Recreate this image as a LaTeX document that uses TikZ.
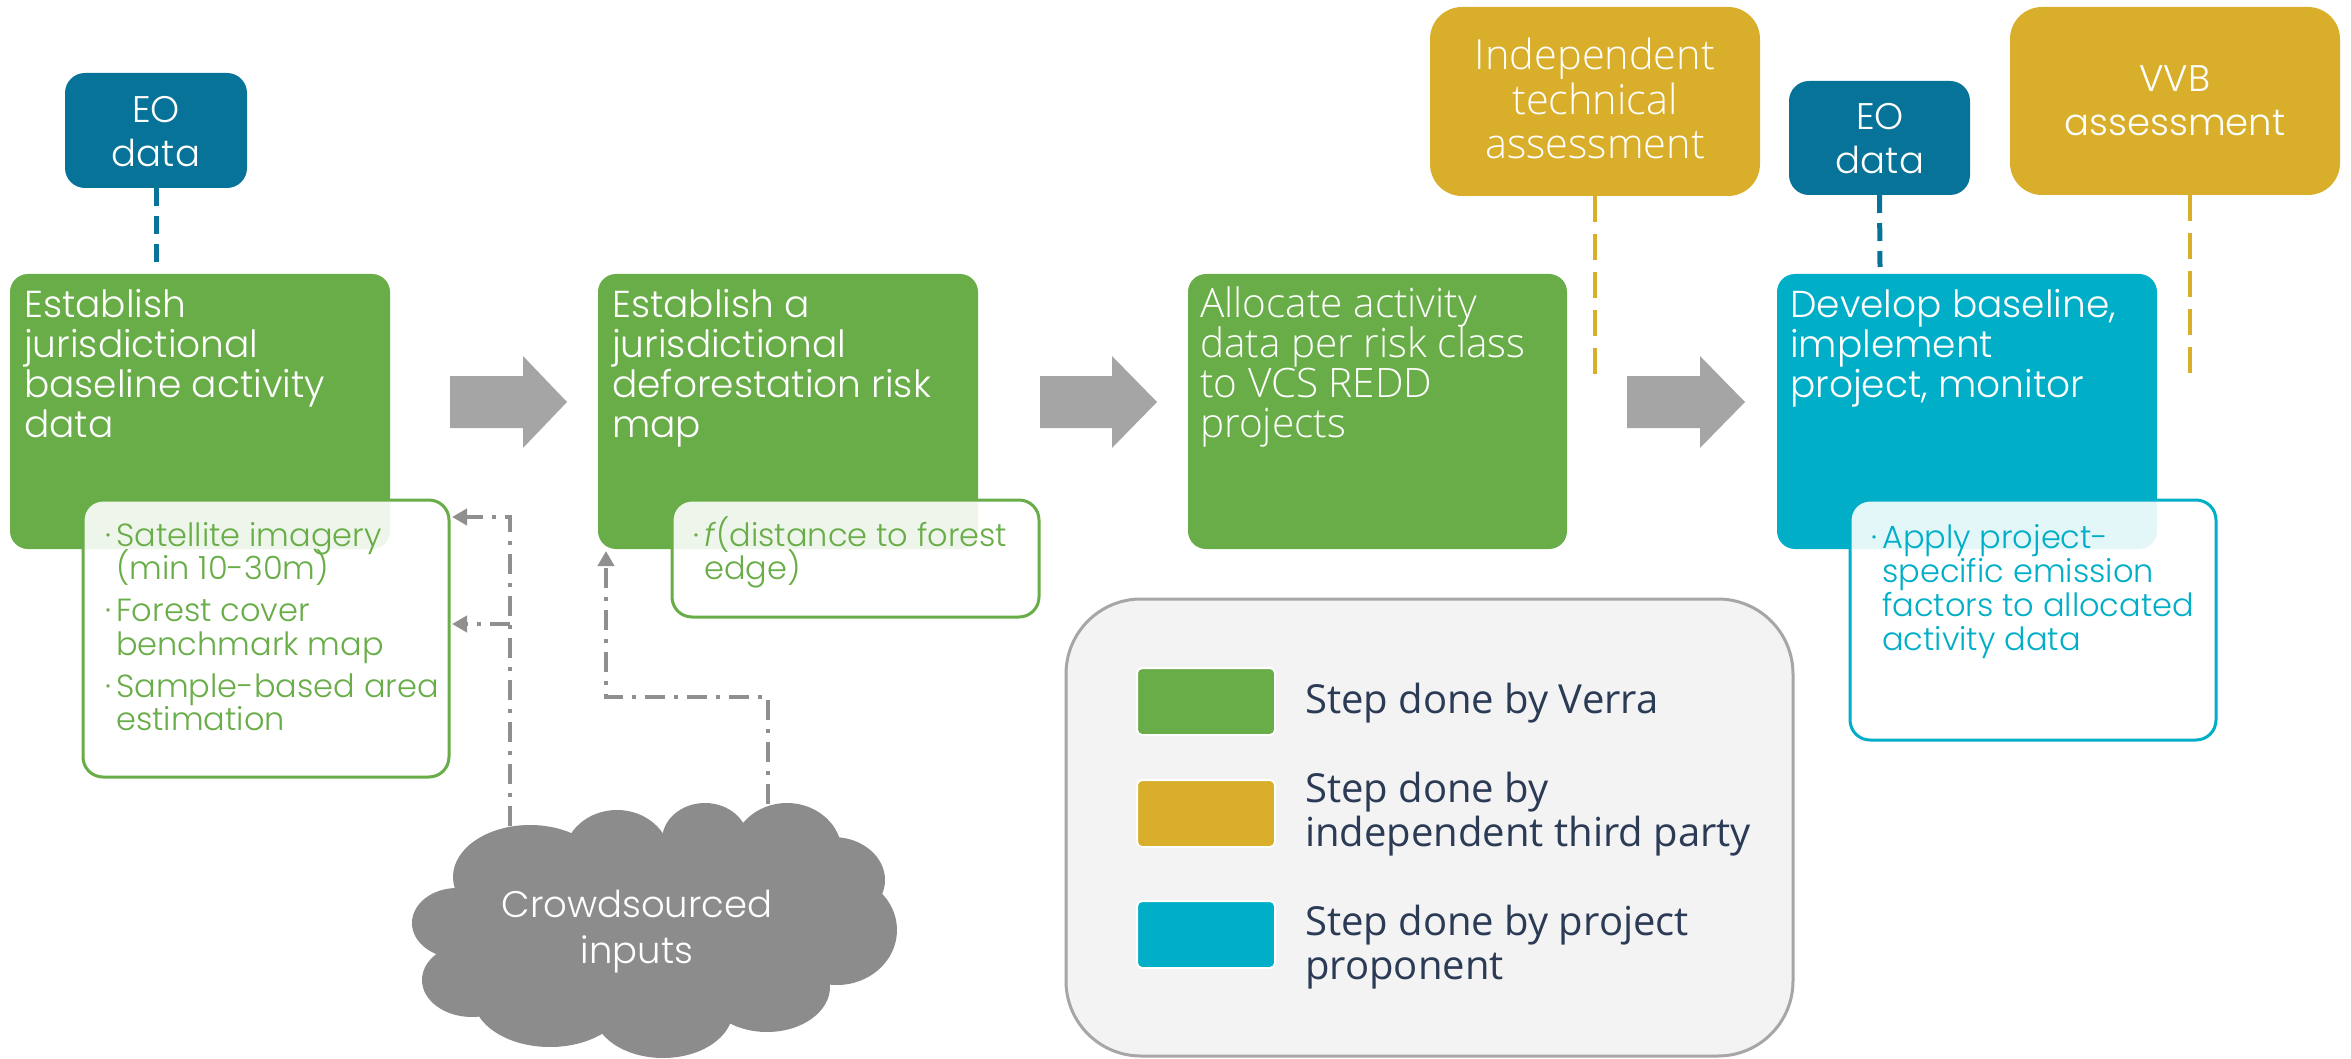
\documentclass[tikz,border=0pt]{standalone}
\usepackage{fontspec}
\setmainfont{Poppins}[UprightFont={* Light}, ItalicFont={* Light Italic}]
\newfontfamily\segfont{Open Sans}[UprightFont={* Light}]
\newfontfamily\legfont{Open Sans}
\usetikzlibrary{arrows.meta}
\definecolor{vgreen}{HTML}{68AD47}
\definecolor{eoblue}{HTML}{077398}
\definecolor{vgold}{HTML}{D9AE2A}
\definecolor{vcyan}{HTML}{00AEC7}
\definecolor{arrgray}{HTML}{A5A5A5}
\definecolor{cloudgray}{HTML}{8C8C8C}
\definecolor{ddgray}{HTML}{8F8F8F}
\definecolor{legfill}{HTML}{F3F3F3}
\definecolor{legline}{HTML}{A6A6A6}
\definecolor{legtext}{HTML}{2B3A55}
\newcommand\LeftLines[1]{\vtop{\lineskiplimit=-1000pt\halign{##\hfil\cr#1\crcr}}}
\newcommand\CenterLines[1]{\vtop{\lineskiplimit=-1000pt\halign{\hfil##\hfil\cr#1\crcr}}}
\newcommand\bul{\llap{·\hskip 5pt}}
\begin{document}
\begin{tikzpicture}[x=1pt,y=-1pt,
  box/.style={inner sep=0pt, outer sep=0pt, anchor=north west, rounded corners=18pt},
  stepgreen/.style={box, fill=vgreen},
  stepcyan/.style={box, fill=vcyan},
  eobox/.style={box, fill=eoblue, rounded corners=20pt},
  goldbox/.style={box, fill=vgold, rounded corners=32pt},
  subbox/.style={box, fill=white, fill opacity=0.89, line width=3pt, rounded corners=20pt},
  swatch/.style={box, draw=white, line width=2pt, rounded corners=5pt},
  maintext/.style={inner sep=0pt, anchor=base west, text=white, font=\fontsize{37.5pt}{40pt}\selectfont},
  segtext/.style={inner sep=0pt, anchor=base west, text=white, font=\segfont\fontsize{40.5pt}{40pt}\selectfont},
  centertext/.style={inner sep=0pt, anchor=base, text=white, font=\fontsize{37pt}{44pt}\selectfont},
  subtext/.style={inner sep=0pt, anchor=base west, font=\fontsize{32pt}{33.5pt}\selectfont},
  legtextstyle/.style={inner sep=0pt, anchor=base west, text=legtext, font=\legfont\fontsize{40pt}{44pt}\selectfont},
  eodash/.style={draw=eoblue, line width=5pt, dash pattern=on 18pt off 10pt},
  golddash/.style={draw=vgold, line width=4pt, dash pattern=on 26pt off 12pt},
  ddash/.style={draw=ddgray, line width=4pt, dash pattern=on 20pt off 9pt on 4pt off 9pt, -{Triangle[length=15pt,width=16pt]}},
  blockarrow/.style={fill=arrgray}
]
\useasboundingbox (0,0) rectangle (2351,1059);

% legend
\node[box, fill=legfill, draw=legline, line width=3pt, rounded corners=75pt, minimum width=727pt, minimum height=457pt] (leg) at (1066,599) {};
\node[swatch, fill=vgreen, minimum width=138pt, minimum height=67pt] (sw1) at (1137,668) {};
\node[swatch, fill=vgold, minimum width=138pt, minimum height=67pt] (sw2) at (1137,780) {};
\node[swatch, fill=vcyan, minimum width=138pt, minimum height=67pt] (sw3) at (1137,901) {};
\node[legtextstyle] (l1) at (1305,713) {\LeftLines{Step done by Verra}};
\node[legtextstyle] (l2) at (1305,802) {\LeftLines{Step done by\cr independent third party}};
\node[legtextstyle] (l3) at (1305,935) {\LeftLines{Step done by project\cr proponent}};

% top boxes
\node[eobox, minimum width=182pt, minimum height=115pt] (eo1) at (65,73) {};
\node[centertext] (eo1t) at (156,123) {\CenterLines{EO\cr data}};
\node[eobox, minimum width=181pt, minimum height=114pt] (eo2) at (1789,81) {};
\node[centertext] (eo2t) at (1880,130) {\CenterLines{EO\cr data}};
\node[goldbox, minimum width=330pt, minimum height=189pt] (ita) at (1430,7) {};
\node[centertext, font=\segfont\fontsize{41.5pt}{44.5pt}\selectfont] (itat) at (1595,70) {\CenterLines{Independent\cr technical\cr assessment}};
\node[goldbox, minimum width=330pt, minimum height=188pt] (vvb) at (2010,7) {};
\node[centertext] (vvbt) at (2175,92) {\CenterLines{VVB\cr assessment}};

% dashed links
\coordinate (e1end) at (156,262);
\coordinate (e2end) at (1880,267);
\coordinate (itaend) at (1595,381);
\coordinate (vvbstart) at (2190,195);
\coordinate (vvbend) at (2190,380);
\draw[eodash] (eo1.south) -- (e1end);
\draw[eodash] (eo2.south) -- (e2end);
\draw[golddash] (ita.south) -- (itaend);
\draw[golddash] (vvbstart) -- (vvbend);

% main steps
\node[stepgreen, minimum width=380pt, minimum height=275pt] (g1) at (10,274) {};
\node[stepgreen, minimum width=380pt, minimum height=275pt] (g2) at (598,274) {};
\node[stepgreen, minimum width=379pt, minimum height=275pt] (g3) at (1188,274) {};
\node[stepcyan, minimum width=380pt, minimum height=275pt] (g4) at (1777,274) {};

\node[maintext] (g1t) at (24,318) {\LeftLines{Establish\cr jurisdictional\cr baseline activity\cr data}};
\node[maintext] (g2t) at (612,318) {\LeftLines{Establish a\cr jurisdictional\cr deforestation risk\cr map}};
\node[segtext] (g3t) at (1200,318) {\LeftLines{Allocate activity\cr data per risk class\cr to VCS REDD\cr projects}};
\node[maintext] (g4t) at (1790,318) {\LeftLines{Develop baseline,\cr implement\cr project, monitor}};

% sub boxes
\node[subbox, draw=vgreen, minimum width=366pt, minimum height=277pt] (s1) at (83,500) {};
\node[subbox, draw=vgreen, minimum width=367pt, minimum height=117pt] (s2) at (672,500) {};
\node[subbox, draw=vcyan, minimum width=366pt, minimum height=240pt] (s4) at (1850,500) {};
\node[subtext, text=vgreen] (s1t) at (116,546) {\LeftLines{\bul Satellite imagery\cr (min 10-30m)\cr\noalign{\vskip 8.5pt}\bul Forest cover\cr benchmark map\cr\noalign{\vskip 8.5pt}\bul Sample-based area\cr estimation}};
\node[subtext, text=vgreen] (s2t) at (704,546) {\LeftLines{\bul\textit{f}(distance to forest\cr edge)}};
\node[subtext, text=vcyan, font=\fontsize{32pt}{34pt}\selectfont] (s4t) at (1882,548) {\LeftLines{\bul Apply project-\cr specific emission\cr factors to allocated\cr activity data}};

% block arrows
\fill[blockarrow] (450,376) -- (523,376) -- (523,356) -- (567,402) -- (523,448) -- (523,428) -- (450,428) -- cycle;
\fill[blockarrow] (1040,376) -- (1112,376) -- (1112,356) -- (1157,402) -- (1112,448) -- (1112,428) -- (1040,428) -- cycle;
\fill[blockarrow] (1627,376) -- (1700,376) -- (1700,356) -- (1745,402) -- (1700,448) -- (1700,428) -- (1627,428) -- cycle;

% cloud
\fill[cloudgray] (472,980) ellipse [x radius=50pt, y radius=37pt];
\fill[cloudgray] (457,923) ellipse [x radius=45pt, y radius=35pt];
\fill[cloudgray] (530,877) ellipse [x radius=77pt, y radius=52pt];
\fill[cloudgray] (617,857) ellipse [x radius=53pt, y radius=47pt];
\fill[cloudgray] (705,840) ellipse [x radius=43pt, y radius=37pt];
\fill[cloudgray] (787,853) ellipse [x radius=55pt, y radius=50pt];
\fill[cloudgray] (833,880) ellipse [x radius=52pt, y radius=43pt];
\fill[cloudgray] (837,930) ellipse [x radius=60pt, y radius=55pt];
\fill[cloudgray] (767,987) ellipse [x radius=63pt, y radius=45pt];
\fill[cloudgray] (663,1010) ellipse [x radius=70pt, y radius=48pt];
\fill[cloudgray] (550,997) ellipse [x radius=77pt, y radius=50pt];
\fill[cloudgray] (647,930) ellipse [x radius=183pt, y radius=93pt];
\node[centertext, font=\fontsize{37pt}{46pt}\selectfont] (cl) at (637,917) {\CenterLines{Crowdsourced\cr inputs}};

% dash-dot connectors from the cloud
\coordinate (c1) at (510,826);
\coordinate (s1a) at (452,517);
\coordinate (j1) at (510,624);
\coordinate (s1b) at (452,624);
\draw[ddash] (c1) |- (s1a);
\draw[ddash] (j1) -- (s1b);
\coordinate (c2) at (768,804);
\coordinate (k2) at (606,697);
\coordinate (g2b) at (606,551);
\draw[ddash] (c2) |- (k2) -- (g2b);
\end{tikzpicture}
\end{document}
